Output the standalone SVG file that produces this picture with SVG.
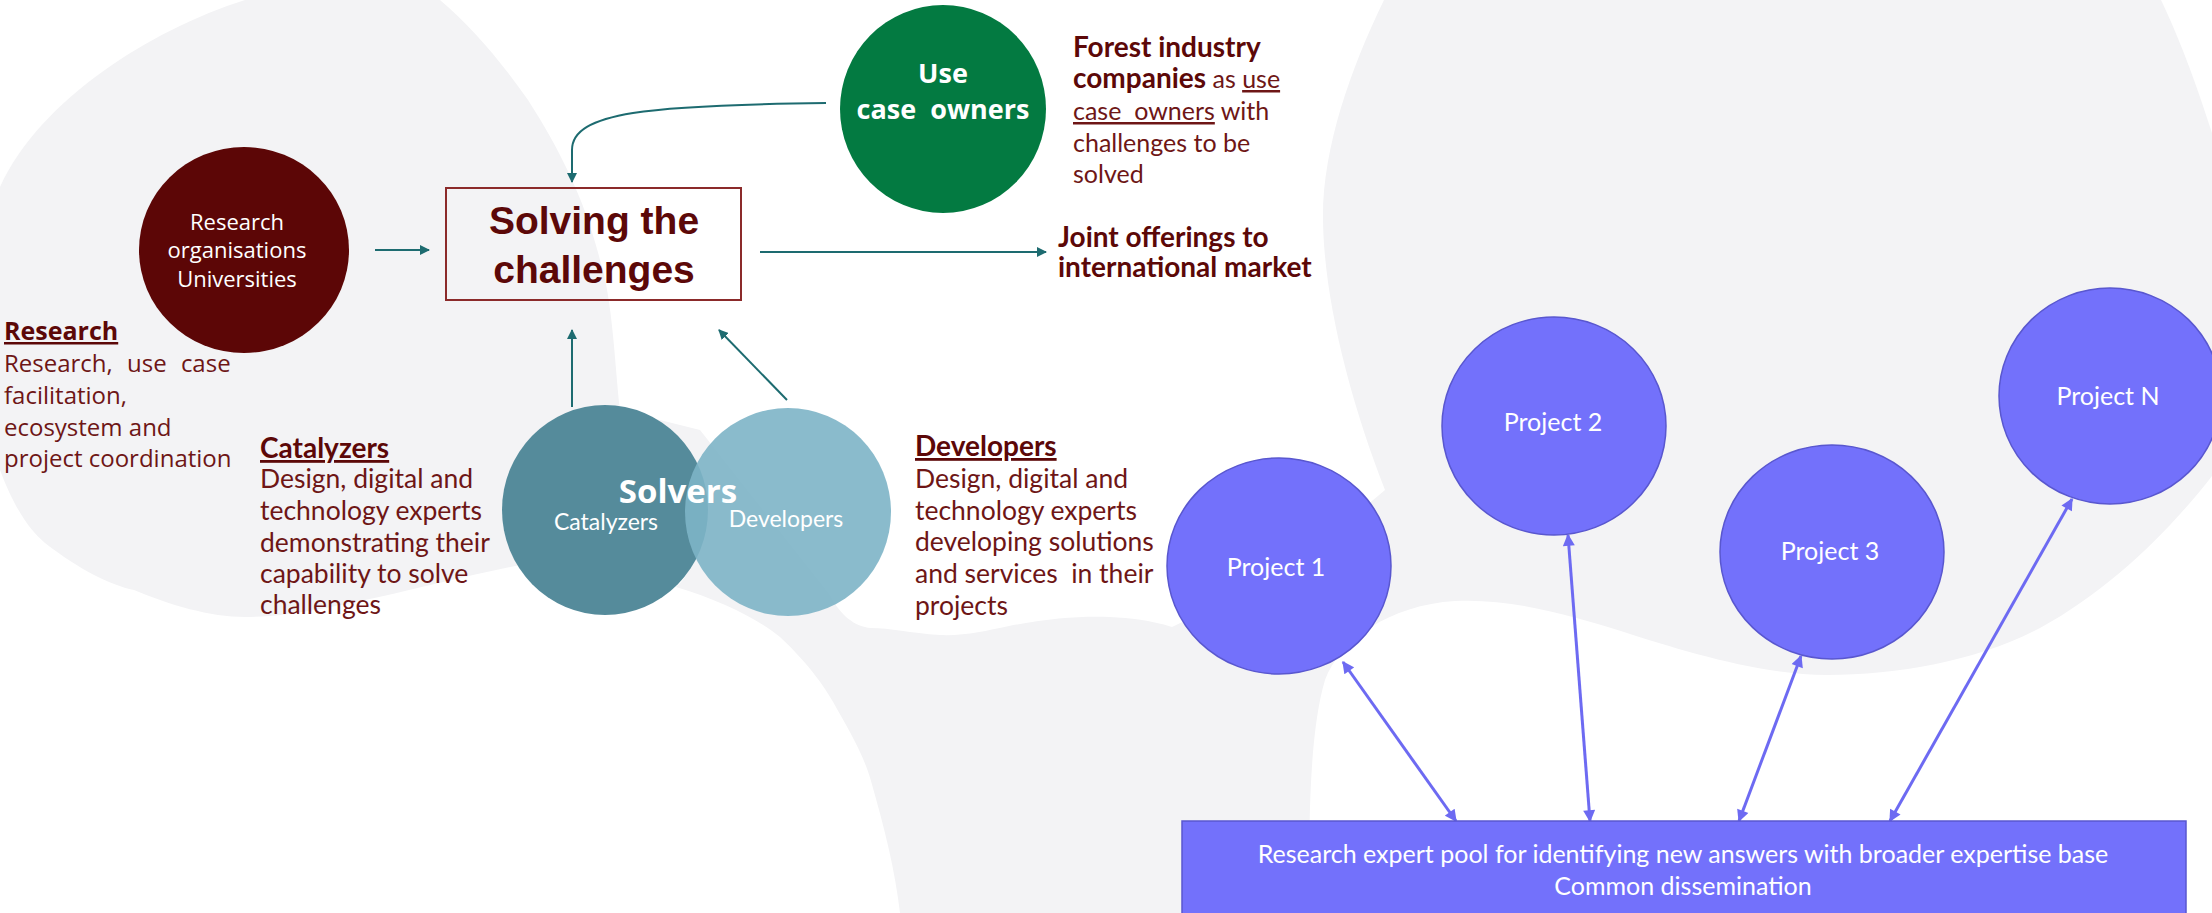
<svg xmlns="http://www.w3.org/2000/svg" width="2212" height="913" viewBox="0 0 2212 913">
<style>
.seg{font-family:'Open Sans','Noto Sans',sans-serif}
.cal{font-family:Lato,'Liberation Sans',sans-serif}
.mr{fill:#6E1616}
.mrb{fill:#5C0808;font-weight:bold}
.wt{fill:#ffffff}
.teal{stroke:#1D6B70;stroke-width:2;fill:none}
.blue{stroke:#6D6AF2;stroke-width:3;fill:none}
.proj{fill:#7371FB;stroke:#5957CF;stroke-width:1.5}
.bg{fill:#F3F3F5}
.wbg{fill:#FFFFFF}
</style>
<defs>
<marker id="ta" viewBox="0 0 10 10" refX="9" refY="5" markerWidth="5" markerHeight="5" orient="auto-start-reverse"><path d="M0,0 L10,5 L0,10 z" fill="#1D6B70"/></marker>
<marker id="ba" viewBox="0 0 10 10" refX="9" refY="5" markerWidth="4.5" markerHeight="4" orient="auto-start-reverse"><path d="M0,0 L10,5 L0,10 z" fill="#6D6AF2"/></marker>
</defs>

<g id="background">
<rect class="bg" x="0" y="0" width="2212" height="913"/>
<path class="wbg" d="M0,0 L245,0 C150,30 40,100 0,187 Z"/>
<path class="wbg" d="M2161,0 L2212,0 L2212,133 C2195,80 2180,40 2161,0 Z"/>
<path class="wbg" d="M440,0 L1384,0 C1350,70 1322,150 1323,220 C1324,300 1350,400 1385,490 L1290,570 L1172,627 C1150,620 1130,618 1110,617 C1080,616 1050,618 1009,626 C985,631 965,636 940,635 C910,633 890,628 871,628 C855,627 840,615 830,595 L700,430 L620,410 C615,370 613,300 600,260 C585,200 560,150 528,100 C500,60 470,25 440,0 Z"/>
<path class="wbg" d="M0,470 C15,510 30,530 45,543 C80,570 110,585 134,590 C170,605 210,617 245,617 C290,617 340,605 379,597 C420,588 470,575 520,565 L600,520 L690,560 C690,575 680,583 676,587 C720,600 760,620 780,637 C810,665 827,690 837,709 C855,740 865,760 871,781 C885,830 895,870 900,913 L0,913 Z"/>
<path class="wbg" d="M1310,913 C1308,820 1310,730 1325,680 C1340,640 1390,605 1455,601 C1510,598 1570,615 1624,632 C1680,650 1760,675 1827,675 C1900,675 1980,660 2040,628 C2110,590 2170,530 2212,476 L2212,913 Z"/>
</g>

<g id="connectors">
<path class="teal" d="M375,250 L429,250" marker-end="url(#ta)"/>
<path class="teal" d="M760,252 L1046,252" marker-end="url(#ta)"/>
<path class="teal" d="M826,103 C650,105 572,112 572,150 L572,182" marker-end="url(#ta)"/>
<path class="teal" d="M572,407 L572,330" marker-end="url(#ta)"/>
<path class="teal" d="M787,400 L719,330" marker-end="url(#ta)"/>
<path class="blue" d="M1456,821 L1343,662" marker-start="url(#ba)" marker-end="url(#ba)"/>
<path class="blue" d="M1590,821 L1568,535" marker-start="url(#ba)" marker-end="url(#ba)"/>
<path class="blue" d="M1739,821 L1801,656" marker-start="url(#ba)" marker-end="url(#ba)"/>
<path class="blue" d="M1890,821 L2072,499" marker-start="url(#ba)" marker-end="url(#ba)"/>
</g>

<g id="research-orgs">
<ellipse cx="244" cy="250" rx="105" ry="103" fill="#5C0606"/>
<text class="seg wt" font-size="22" text-anchor="middle"><tspan x="237" y="230">Research</tspan><tspan x="237" y="258">organisations</tspan><tspan x="237" y="287">Universities</tspan></text>
</g>

<g id="solving">
<rect x="446" y="188" width="295" height="112" fill="none" stroke="#8B2A2A" stroke-width="2"/>
<text class="mrb" font-family="'Liberation Sans',Arial,sans-serif" font-size="39" text-anchor="middle"><tspan x="594" y="234">Solving the</tspan><tspan x="594" y="283">challenges</tspan></text>
</g>

<g id="use-case-owners">
<ellipse cx="943" cy="109" rx="103" ry="104" fill="#037A41"/>
<text class="seg wt" font-size="27" font-weight="bold" text-anchor="middle" xml:space="preserve"><tspan x="943" y="83">Use</tspan><tspan x="943" y="119">case  owners</tspan></text>
</g>

<g id="forest-text" class="cal" font-size="25">
<text class="mrb" x="1073" y="57" font-size="28">Forest industry</text>
<text class="mr" x="1073" y="88"><tspan class="mrb" font-size="28">companies</tspan> as <tspan text-decoration="underline">use</tspan></text>
<text class="mr" x="1073" y="120" xml:space="preserve"><tspan text-decoration="underline">case  owners</tspan> with</text>
<text class="mr" x="1073" y="152">challenges to be</text>
<text class="mr" x="1073" y="183">solved</text>
</g>

<g id="joint-offerings" class="cal" font-size="28">
<text class="mrb" x="1058" y="247">Joint offerings to</text>
<text class="mrb" x="1058" y="277">international market</text>
</g>

<g id="research-text" class="seg" font-size="24">
<text class="mrb" x="4" y="340" font-size="25" text-decoration="underline">Research</text>
<text class="mr" x="4" y="372" word-spacing="8">Research, use case</text>
<text class="mr" x="4" y="404">facilitation,</text>
<text class="mr" x="4" y="436">ecosystem and</text>
<text class="mr" x="4" y="467">project coordination</text>
</g>

<g id="catalyzers-text" class="cal" font-size="26.5">
<text class="mrb" x="260" y="458" font-size="28" text-decoration="underline">Catalyzers</text>
<text class="mr" x="260" y="488">Design, digital and</text>
<text class="mr" x="260" y="520">technology experts</text>
<text class="mr" x="260" y="552">demonstrating their</text>
<text class="mr" x="260" y="583">capability to solve</text>
<text class="mr" x="260" y="614">challenges</text>
</g>

<g id="solvers">
<ellipse cx="605" cy="510" rx="103" ry="105" fill="#558B9B"/>
<ellipse cx="788" cy="512" rx="103" ry="104" fill="#7DB4C6" fill-opacity="0.9"/>
<text class="seg wt" font-size="33" font-weight="bold" x="678" y="503" text-anchor="middle">Solvers</text>
<text class="cal wt" font-size="23" x="606" y="530" text-anchor="middle">Catalyzers</text>
<text class="cal wt" font-size="23" x="786" y="527" text-anchor="middle">Developers</text>
</g>

<g id="developers-text" class="cal" font-size="26.5">
<text class="mrb" x="915" y="456" font-size="28" text-decoration="underline">Developers</text>
<text class="mr" x="915" y="488">Design, digital and</text>
<text class="mr" x="915" y="520">technology experts</text>
<text class="mr" x="915" y="551">developing solutions</text>
<text class="mr" x="915" y="583" xml:space="preserve">and services  in their</text>
<text class="mr" x="915" y="615">projects</text>
</g>

<g id="project-1"><ellipse class="proj" cx="1279" cy="566" rx="112" ry="108"/><text class="cal wt" font-size="25" x="1276" y="576" text-anchor="middle">Project 1</text></g>
<g id="project-2"><ellipse class="proj" cx="1554" cy="426" rx="112" ry="109"/><text class="cal wt" font-size="25" x="1553" y="431" text-anchor="middle">Project 2</text></g>
<g id="project-3"><ellipse class="proj" cx="1832" cy="552" rx="112" ry="107"/><text class="cal wt" font-size="25" x="1830" y="560" text-anchor="middle">Project 3</text></g>
<g id="project-n"><ellipse class="proj" cx="2110" cy="396" rx="111" ry="108"/><text class="cal wt" font-size="25" x="2108" y="405" text-anchor="middle">Project N</text></g>

<g id="expert-pool">
<rect x="1182" y="821" width="1004" height="100" fill="#7371FB" stroke="#5957CF" stroke-width="1.5"/>
<text class="cal wt" font-size="25" text-anchor="middle"><tspan x="1683" y="863">Research expert pool for identifying new answers with broader expertise base</tspan><tspan x="1683" y="895">Common dissemination</tspan></text>
</g>
</svg>
